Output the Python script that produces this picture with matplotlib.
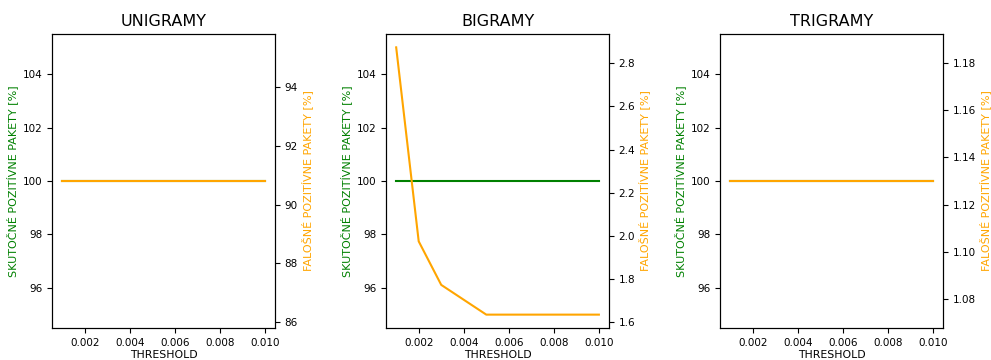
import matplotlib
matplotlib.use("Agg")
import matplotlib.pyplot as plt

thresholds = [0.001, 0.002, 0.003, 0.004, 0.005, 0.006, 0.007, 0.008, 0.009, 0.010]

titles = ["UNIGRAMY", "BIGRAMY", "TRIGRAMY"]

tp_unigramy = [100] * 10
fp_unigramy = [90.8] * 10

tp_bigramy = [100] * 10
fp_bigramy = [2.874, 1.974, 1.772, 1.703, 1.634, 1.634, 1.634, 1.634, 1.634, 1.634]

tp_trigramy = [100] * 10
fp_trigramy = [1.13] * 10

tp_all = [tp_unigramy, tp_bigramy, tp_trigramy]
fp_all = [fp_unigramy, fp_bigramy, fp_trigramy]

fig, axes = plt.subplots(1, 3, figsize=(9.91, 3.6), dpi=100)
fig.subplots_adjust(left=0.0525, right=0.9516, top=0.9056, bottom=0.0889, wspace=0.498)

for ax, title, tp, fp in zip(axes, titles, tp_all, fp_all):
    ax.plot(thresholds, tp, color="green", linewidth=1.5)
    ax.set_title(title, fontsize=11.5)
    ax.set_xlabel("THRESHOLD", fontsize=7.8, labelpad=2)
    ax.set_ylabel("SKUTOČNÉ POZITÍVNE PAKETY [%]", color="green", fontsize=8, labelpad=3)
    ax.tick_params(labelsize=7.5)
    ax.set_xticks([0.002, 0.004, 0.006, 0.008, 0.010])

    ax2 = ax.twinx()
    ax2.plot(thresholds, fp, color="orange", linewidth=1.5)
    ax2.set_ylabel("FALOŠNÉ POZITÍVNE PAKETY [%]", color="orange", fontsize=8, labelpad=2)
    ax2.tick_params(labelsize=7.5)

fig.savefig("out.png", dpi=100)
